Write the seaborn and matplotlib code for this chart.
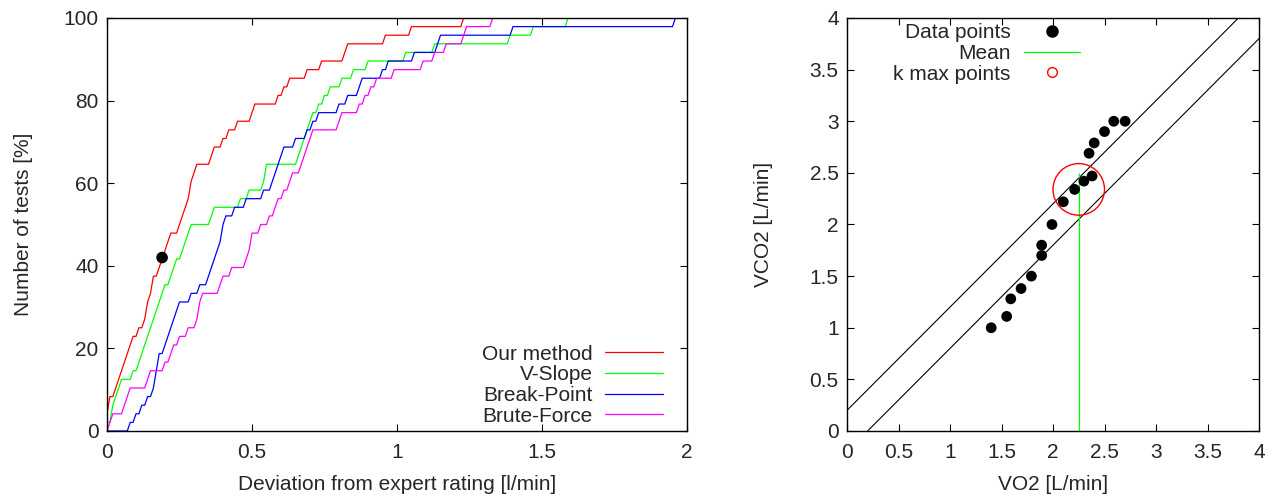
import numpy as np
import pandas as pd
import matplotlib
matplotlib.use("Agg")
import matplotlib.pyplot as plt
from matplotlib.lines import Line2D
from matplotlib.patches import Circle
from matplotlib.ticker import FuncFormatter
import seaborn as sns

# --- left panel: deviation of each test from the expert rating [l/min]
methods = ["Our method", "V-Slope", "Break-Point", "Brute-Force"]
colors = ["#ff0000", "#00ff00", "#0000ff", "#ff00ff"]

our_method = [0.0, 0.0, 0.01, 0.01, 0.03, 0.04, 0.045, 0.055, 0.065, 0.075,
              0.085, 0.105, 0.13, 0.135, 0.14, 0.145, 0.155, 0.16, 0.175, 0.183,
              0.195, 0.21, 0.22, 0.245, 0.255, 0.265, 0.277, 0.286, 0.29, 0.30,
              0.307, 0.36, 0.364, 0.392, 0.415, 0.444, 0.493, 0.51, 0.585, 0.606,
              0.629, 0.686, 0.737, 0.82, 0.826, 0.959, 1.047, 1.227]
v_slope = [0.0, 0.015, 0.02, 0.03, 0.035, 0.041, 0.085, 0.11, 0.114, 0.125,
           0.137, 0.145, 0.155, 0.165, 0.171, 0.19, 0.20, 0.211, 0.23, 0.24,
           0.252, 0.27, 0.28, 0.286, 0.36, 0.364, 0.453, 0.482, 0.537, 0.545,
           0.547, 0.66, 0.67, 0.68, 0.69, 0.70, 0.706, 0.725, 0.744, 0.763,
           0.806, 0.846, 0.899, 1.024, 1.128, 1.387, 1.468, 1.587]
break_point = [0.073, 0.10, 0.114, 0.131, 0.16, 0.165, 0.17, 0.175, 0.177, 0.20,
               0.21, 0.22, 0.23, 0.235, 0.242, 0.286, 0.318, 0.35, 0.355, 0.361,
               0.38, 0.384, 0.395, 0.40, 0.41, 0.435, 0.472, 0.539, 0.568, 0.58,
               0.59, 0.595, 0.602, 0.646, 0.688, 0.71, 0.725, 0.794, 0.826, 0.87,
               0.876, 0.946, 0.966, 1.056, 1.14, 1.148, 1.399, 1.951]
brute_force = [0.01, 0.016, 0.06, 0.07, 0.074, 0.14, 0.145, 0.197, 0.22, 0.229,
               0.246, 0.272, 0.31, 0.315, 0.32, 0.324, 0.39, 0.395, 0.424, 0.478,
               0.49, 0.495, 0.50, 0.528, 0.556, 0.575, 0.59, 0.61, 0.625, 0.637,
               0.667, 0.675, 0.69, 0.70, 0.706, 0.80, 0.806, 0.867, 0.89, 0.905,
               0.928, 0.985, 1.089, 1.126, 1.168, 1.23, 1.237, 1.326]
marked_dev = [0.19]
marked_pct = [42]

# --- right panel
vo2 = [1.40, 1.55, 1.59, 1.69, 1.79, 1.89, 1.89, 1.99, 2.10, 2.21,
       2.30, 2.38, 2.35, 2.40, 2.50, 2.59, 2.70]
vco2 = [1.00, 1.11, 1.28, 1.38, 1.50, 1.70, 1.80, 2.00, 2.22, 2.34,
        2.42, 2.47, 2.69, 2.79, 2.90, 3.00, 3.00]
mean_vo2 = 2.25
mean_top = 2.5
kmax_center = (2.25, 2.34)
kmax_radius = 0.25
band_offset = 0.2

# cumulative share of tests within each deviation threshold
thresholds = np.round(np.arange(0, 2.0001, 0.01), 4)
rows = []
for name, dev in zip(methods, [our_method, v_slope, break_point, brute_force]):
    d = np.array(dev)
    pct = (d[:, None] <= thresholds[None, :] + 1e-9).mean(axis=0) * 100
    for t, p in zip(thresholds, pct):
        rows.append({"method": name, "dev": t, "pct": p})
cdf = pd.DataFrame(rows)

sns.set_style("ticks")
plt.rcParams["font.family"] = ["Liberation Sans", "DejaVu Sans"]
plt.rcParams["font.size"] = 15

fig = plt.figure(figsize=(12.73, 4.99), dpi=100)
ax1 = fig.add_axes([107 / 1273, 68 / 499, 580 / 1273, 413 / 499])
ax2 = fig.add_axes([847 / 1273, 68 / 499, 412 / 1273, 413 / 499])

sns.lineplot(data=cdf, x="dev", y="pct", hue="method", hue_order=methods,
             palette=dict(zip(methods, colors)), estimator=None, lw=0.9,
             legend=False, ax=ax1)
sns.scatterplot(x=marked_dev, y=marked_pct, color="black", s=70,
                edgecolor="none", ax=ax1, zorder=5)
ax1.set_xlim(0, 2)
ax1.set_ylim(0, 100)
ax1.set_xticks([0, 0.5, 1, 1.5, 2])
ax1.set_yticks(range(0, 101, 20))
ax1.set_xlabel("Deviation from expert rating [l/min]", labelpad=9)
ax1.set_ylabel("Number of tests [%]", labelpad=22)
handles = [Line2D([], [], color=c, lw=0.9) for c in colors]
ax1.legend(handles, methods, loc="lower right", bbox_to_anchor=(0.9586, 0.013),
           frameon=False, markerfirst=False, borderpad=0, borderaxespad=0,
           labelspacing=0.08, handlelength=2.76, handletextpad=0.62, fontsize=15)

# right panel
xs = np.array([0.0, 4.0])
ax2.plot(xs, xs + band_offset, color="black", lw=0.8)
ax2.plot(xs, xs - band_offset, color="black", lw=0.8)
ax2.vlines(mean_vo2, 0, mean_top, color="#00ff00", lw=0.9)
sns.scatterplot(x=vo2, y=vco2, color="black", s=60, edgecolor="none", ax=ax2, zorder=4)
ax2.add_patch(Circle(kmax_center, kmax_radius, fill=False, ec="red", lw=1.0, zorder=5))
ax2.set_xlim(0, 4)
ax2.set_ylim(0, 4)
ax2.set_xticks(np.arange(0, 4.01, 0.5))
ax2.set_yticks(np.arange(0, 4.01, 0.5))
ax2.set_xlabel("VO2 [L/min]", labelpad=9)
ax2.set_ylabel("VCO2 [L/min]", labelpad=26)
h2 = [Line2D([], [], marker="o", color="black", ls="none", markersize=8),
      Line2D([], [], color="#00ff00", lw=0.9),
      Line2D([], [], marker="o", mfc="none", mec="red", ls="none", markersize=7)]
ax2.legend(h2, ["Data points", "Mean", "k max points"], loc="upper right",
           bbox_to_anchor=(0.5655, 0.987), frameon=False, markerfirst=False,
           borderpad=0, borderaxespad=0, labelspacing=0.08, handlelength=2.67,
           handletextpad=0.66, fontsize=15)

fmt = FuncFormatter(lambda v, p: f"{v:g}")
for ax in (ax1, ax2):
    ax.tick_params(direction="in", top=True, right=True, length=5, width=0.8,
                   labelsize=15, pad=6, color="black")
    ax.tick_params(axis="x", pad=9)
    ax.xaxis.set_major_formatter(fmt)
    ax.yaxis.set_major_formatter(fmt)
    for s in ax.spines.values():
        s.set_linewidth(1.0)
        s.set_color("black")
    ax.set_facecolor("white")

fig.savefig("out.png", dpi=100)
